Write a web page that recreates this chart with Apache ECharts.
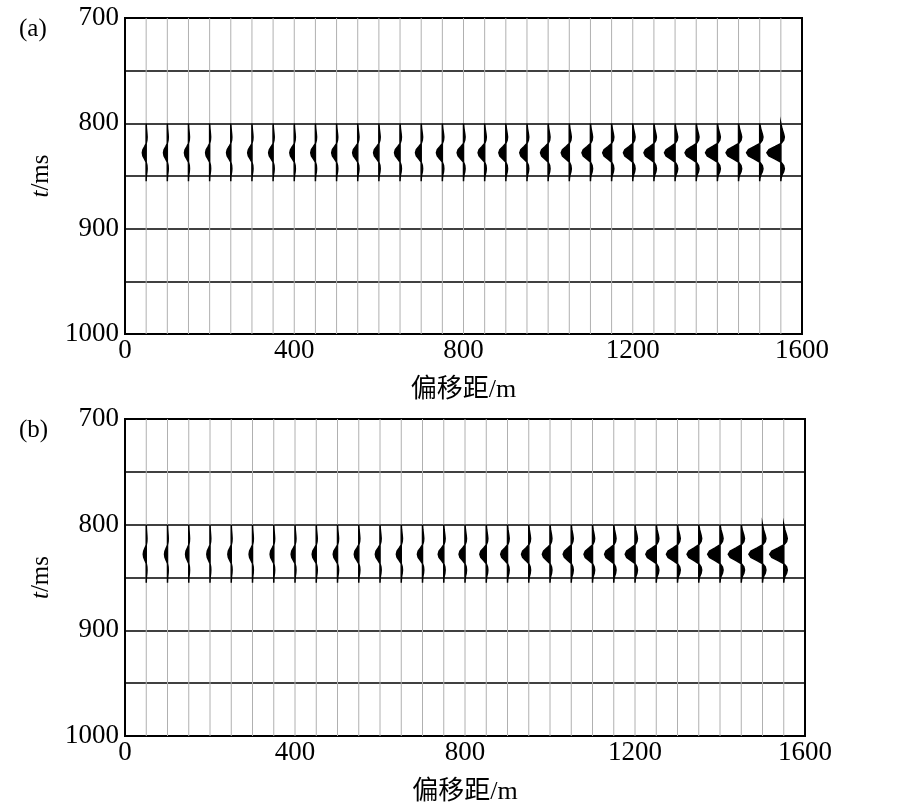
<!DOCTYPE html>
<html>
<head>
<meta charset="utf-8">
<script src="https://cdn.jsdelivr.net/npm/echarts@6/dist/echarts.min.js"></script>
<style>html,body{margin:0;padding:0;background:#fff;}#c{width:900px;height:810px;}</style>
</head>
<body>
<div id="c"></div>
<script>
// Trace offsets (m)
const offsets = [50,100,150,200,250,300,350,400,450,500,550,600,650,700,750,800,850,900,950,1000,1050,1100,1150,1200,1250,1300,1350,1400,1450,1500,1550];
// Peak wavelet amplitude per trace, in offset units (m), panel (a)
const ampA = [9,9,9.5,9.5,10,10,10.5,10.5,11,11.5,12,12.5,13,13.5,14,15,15.5,16.5,17,18,19,20,21,22,23.5,25,26.5,28,29.5,31,33];
// panel (b)
const ampB = [7,7,7.5,7.5,8,8,8.5,9,9.5,10,10.5,11,11.5,12,13,14,15,16,17,18,19,20,21.5,23,24.5,26,27.5,29,30.5,32,33];
// Wavelet shape: times (ms) and normalized deflection (+ right)
const waveT = [800,805,810,813,816,819,822,825,828,831,834,837,840,843,846,849,852,855];
const waveS = [0,0.08,0.2,0.25,0.2,0.02,-0.4,-0.85,-1,-0.85,-0.4,0.02,0.2,0.25,0.2,0.08,0.02,0];
const xTicks = [0,400,800,1200,1600];
const yTicks = [700,800,900,1000];

const FONT = '"Liberation Serif","Times New Roman",serif';
const CJK = '"Liberation Serif","Noto Sans CJK SC",serif';

function renderTrace(params, api) {
  const off = api.value(0), amp = api.value(1);
  const top = api.coord([off, 700]);
  const bot = api.coord([off, 1000]);
  const pts = [];
  for (let k = 0; k < waveT.length; k++) {
    pts.push(api.coord([off + amp * waveS[k], waveT[k]]));
  }
  return {
    type: 'group',
    children: [
      { type: 'line', shape: { x1: top[0], y1: top[1], x2: bot[0], y2: bot[1] },
        style: { stroke: '#b0b0b0', lineWidth: 1 } },
      { type: 'polygon', shape: { points: pts },
        style: { fill: '#000', stroke: '#000', lineWidth: 1.5 } }
    ]
  };
}

function mkX(gi) {
  return {
    gridIndex: gi, type: 'value', min: 0, max: 1600, interval: 400,
    name: '偏移距/m', nameLocation: 'middle', nameGap: 43,
    nameTextStyle: { fontFamily: CJK, fontSize: 26, color: '#000' },
    axisLine: { show: true, lineStyle: { color: '#000', width: 2 } },
    axisTick: { show: false },
    splitLine: { show: false },
    axisLabel: { fontFamily: FONT, fontSize: 27, color: '#000', margin: 3,
      formatter: v => xTicks.indexOf(v) >= 0 ? String(v) : '' }
  };
}
function mkY(gi) {
  return {
    gridIndex: gi, type: 'value', min: 700, max: 1000, interval: 50, inverse: true,
    name: '{i|t}/ms', nameLocation: 'middle', nameGap: 70, nameRotate: 90,
    nameTextStyle: { fontFamily: FONT, fontSize: 25, color: '#000',
      rich: { i: { fontFamily: FONT, fontSize: 25, fontStyle: 'italic', color: '#000' } } },
    axisLine: { show: true, lineStyle: { color: '#000', width: 2 } },
    axisTick: { show: false },
    splitLine: { show: true, lineStyle: { color: '#000', width: 1.5 } },
    axisLabel: { fontFamily: FONT, fontSize: 27, color: '#000', margin: 6,
      formatter: v => yTicks.indexOf(v) >= 0 ? String(v) : '' }
  };
}

const chart = echarts.init(document.getElementById('c'), null, { renderer: 'canvas' });
chart.setOption({
  backgroundColor: '#fff',
  animation: false,
  grid: [
    { left: 125, top: 18, width: 677, height: 316, show: true, borderColor: '#000', borderWidth: 2, containLabel: false },
    { left: 125, top: 419, width: 680, height: 317, show: true, borderColor: '#000', borderWidth: 2, containLabel: false }
  ],
  xAxis: [mkX(0), mkX(1)],
  yAxis: [mkY(0), mkY(1)],
  graphic: [
    { type: 'text', left: 19, top: 17, style: { text: '(a)', font: '25px ' + FONT, fill: '#000' } },
    { type: 'text', left: 19, top: 418, style: { text: '(b)', font: '25px ' + FONT, fill: '#000' } }
  ],
  series: [
    { type: 'custom', xAxisIndex: 0, yAxisIndex: 0, clip: true, renderItem: renderTrace,
      data: offsets.map((o, i) => [o, ampA[i]]) },
    { type: 'custom', xAxisIndex: 1, yAxisIndex: 1, clip: true, renderItem: renderTrace,
      data: offsets.map((o, i) => [o, ampB[i]]) }
  ]
});
</script>
</body>
</html>
